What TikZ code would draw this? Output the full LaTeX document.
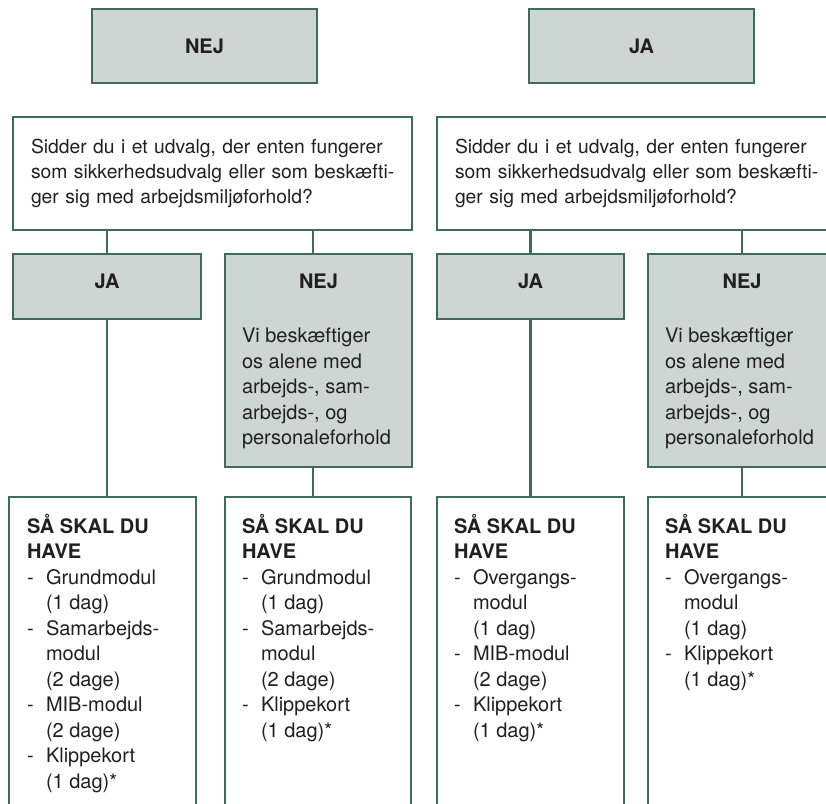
\documentclass[tikz,border=0pt]{standalone}
\usepackage{fontspec}
\setmainfont{TeX Gyre Heros}
\definecolor{boxline}{HTML}{3E6B5B}
\definecolor{boxfill}{HTML}{CED6D3}
\definecolor{inkgrey}{HTML}{231F20}
\newcommand{\modline}[1]{\makebox[19pt][l]{-}#1}
\newcommand{\modcont}[1]{\hspace*{19pt}#1}

\begin{document}
\begin{tikzpicture}[x=1pt, y=-1pt,
	every node/.style={outer sep=0pt, text=inkgrey, font=\fontsize{20}{25.5}\selectfont},
	greybox/.style={draw=boxline, fill=boxfill, line width=2.6pt, anchor=north west},
	whitebox/.style={draw=boxline, fill=white, line width=2.6pt, anchor=north west},
	link/.style={draw=boxline, line width=2.6pt},
	head/.style={font=\fontsize{20}{25.5}\selectfont\bfseries, inner sep=0pt, anchor=base},
	body/.style={align=left, inner sep=0pt, anchor=north west},
	asktxt/.style={font=\fontsize{19.3}{25}\selectfont, text width=363pt, align=left}]
				\useasboundingbox (0,0) rectangle (826,803);
				\clip (0,0) rectangle (826,803);
				\node[greybox, minimum width=225pt, minimum height=74pt] (topno) at (92,9) {\bfseries NEJ};
				\node[greybox, minimum width=225pt, minimum height=74pt] (topyes) at (529,9) {\bfseries JA};
				
				\node[whitebox, asktxt, minimum width=399pt, minimum height=113pt] (q1) at (13,117) {\mbox{Sidder du i et udvalg, der enten fungerer}\\\mbox{som sikkerhedsudvalg eller som beskæfti-}\\\mbox{ger sig med arbejdsmiljøforhold?}};
				\node[whitebox, asktxt, minimum width=399pt, minimum height=113pt] (q2) at (437,117) {\mbox{Sidder du i et udvalg, der enten fungerer}\\\mbox{som sikkerhedsudvalg eller som beskæfti-}\\\mbox{ger sig med arbejdsmiljøforhold?}};
				
				\node[greybox, minimum width=188pt, minimum height=65pt] (ja1) at (13,254) {};
				\node[head] (ja1lbl) at (ja1.north |- 0,288) {JA};
				\node[greybox, minimum width=187pt, minimum height=213pt] (nej1) at (225,254) {};
				\node[head] (nej1lbl) at (nej1.north |- 0,288) {NEJ};
				\node[body] (nej1txt) at (242,328) {Vi beskæftiger\\os alene med\\arbejds-, sam-\\arbejds-, og\\personaleforhold};
				\node[greybox, minimum width=187pt, minimum height=65pt] (ja2) at (437,254) {};
				\node[head] (ja2lbl) at (ja2.north |- 0,288) {JA};
				\node[greybox, minimum width=188pt, minimum height=213pt] (nej2) at (648,254) {};
				\node[head] (nej2lbl) at (nej2.north |- 0,288) {NEJ};
				\node[body] (nej2txt) at (665,328) {Vi beskæftiger\\os alene med\\arbejds-, sam-\\arbejds-, og\\personaleforhold};
				
				\node[whitebox, minimum width=187pt, minimum height=340pt] (res1) at (9,497) {};
				\node[body] (res1txt) at (27,514) {\textbf{SÅ SKAL DU}\\\textbf{HAVE}\\\modline{Grundmodul}\\\modcont{(1 dag)}\\\modline{Samarbejds-}\\\modcont{modul}\\\modcont{(2 dage)}\\\modline{MIB-modul}\\\modcont{(2 dage)}\\\modline{Klippekort}\\\modcont{(1 dag)*}};
				\node[whitebox, minimum width=186pt, minimum height=340pt] (res2) at (225,497) {};
				\node[body] (res2txt) at (242,514) {\textbf{SÅ SKAL DU}\\\textbf{HAVE}\\\modline{Grundmodul}\\\modcont{(1 dag)}\\\modline{Samarbejds-}\\\modcont{modul}\\\modcont{(2 dage)}\\\modline{Klippekort}\\\modcont{(1 dag)*}};
				\node[whitebox, minimum width=187pt, minimum height=340pt] (res3) at (437,497) {};
				\node[body] (res3txt) at (454,514) {\textbf{SÅ SKAL DU}\\\textbf{HAVE}\\\modline{Overgangs-}\\\modcont{modul}\\\modcont{(1 dag)}\\\modline{MIB-modul}\\\modcont{(2 dage)}\\\modline{Klippekort}\\\modcont{(1 dag)*}};
				\node[whitebox, minimum width=188pt, minimum height=340pt] (res4) at (648,497) {};
				\node[body] (res4txt) at (665,514) {\textbf{SÅ SKAL DU}\\\textbf{HAVE}\\\modline{Overgangs-}\\\modcont{modul}\\\modcont{(1 dag)}\\\modline{Klippekort}\\\modcont{(1 dag)*}};
				
				\draw[link] (q1.south -| ja1.north) -- (ja1.north);
				\draw[link] (q1.south -| 313,0) -- (nej1.north -| 313,0);
				\draw[link] (ja1.south) -- (res1.north -| ja1.south);
				\draw[link] (nej1.south -| 313,0) -- (res2.north -| 313,0);
				\draw[link] (q2.south -| ja2.north) -- (ja2.north);
				\draw[link] (q2.south -| nej2.north) -- (nej2.north);
				\draw[link] (ja2.south) -- (res3.north -| ja2.south);
				\draw[link] (nej2.south) -- (res4.north -| nej2.south);
			\end{tikzpicture}
\end{document}
